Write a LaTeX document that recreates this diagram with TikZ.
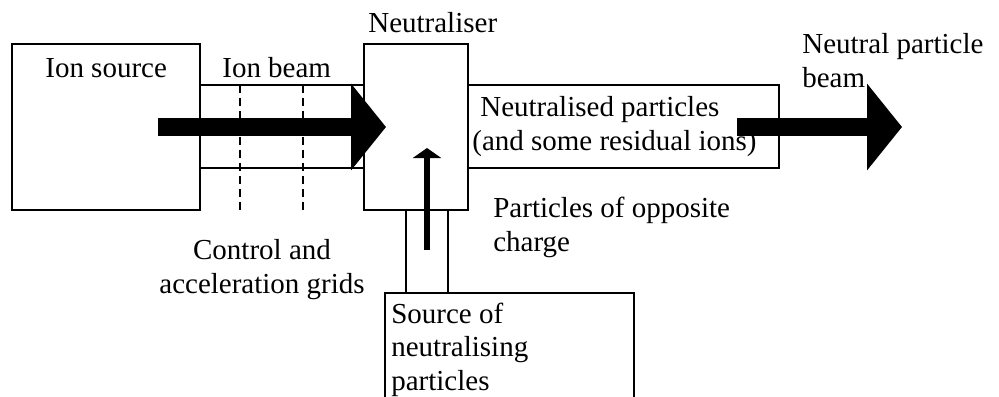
\documentclass[tikz,border=0pt]{standalone}
\usepackage{fontspec}
\setmainfont{Liberation Serif}
\usetikzlibrary{arrows.meta}
\tikzset{
  box/.style={draw,line width=1.1pt,inner sep=0pt},
  lbl/.style={inner sep=0pt,font=\fontsize{16.5}{18.8}\selectfont},
  beam/.style={line width=0.36cm,-{Triangle[length=0.7cm,width=1.7cm]}},
  feed/.style={line width=0.12cm,-{Triangle[length=0.2cm,width=0.56cm]}},
  grid/.style={line width=0.6pt,dash pattern=on 0.16cm off 0.1cm}
}
\begin{document}
\begin{tikzpicture}[x=0.02cm,y=-0.02cm]
	\useasboundingbox (0,0) rectangle (999,396);
	% boxes and tubes
	\node[box,minimum width=3.76cm,minimum height=3.32cm] (src) at (106,127) {};
	\node[box,minimum width=3.28cm,minimum height=1.66cm] (tube) at (282,126.5) {};
	\node[box,minimum width=2.08cm,minimum height=3.32cm] (neut) at (416,127) {};
	\node[box,minimum width=6.22cm,minimum height=1.66cm] (out) at (623.5,126.5) {};
	\node[box,minimum width=0.84cm,minimum height=1.66cm] (pipe) at (427,251.5) {};
	\node[box,minimum width=4.98cm,minimum height=2.6cm] (nsrc) at (509.5,358) {};
	% grids
	\draw[grid] (240,85) -- (240,210);
	\draw[grid] (303,85) -- (303,210);
	% beams
	\coordinate (b1) at (158,127);
	\coordinate (b2) at (386,127);
	\coordinate (b3) at (737,127);
	\coordinate (b4) at (902,127);
	\coordinate (f1) at (427,250);
	\coordinate (f2) at (427,148);
	\draw[beam] (b1) -- (b2);
	\draw[beam] (b3) -- (b4);
	\draw[feed] (f1) -- (f2);
	% labels (base = last line)
	\node[lbl,anchor=base west] (tsrc) at (45,77) {Ion source};
	\node[lbl,anchor=base west] (tbeam) at (222,77) {Ion beam};
	\node[lbl,anchor=base west] (tneut) at (368,32) {Neutraliser};
	\node[lbl,anchor=base west,align=left] (tnpb) at (802,87) {Neutral particle\\beam};
	\node[lbl,anchor=base west,align=left] (tout) at (472,150) {\hspace*{0.16cm}Neutralised particles\\(and some residual ions)};
	\node[lbl,anchor=base west,align=left] (topp) at (493,251) {Particles of opposite\\charge};
	\node[lbl,anchor=base,align=center] (tgrid) at (262,293) {Control and\\acceleration grids};
	\node[lbl,anchor=base west,align=left] (tnsrc) at (391,390) {Source of\\neutralising\\particles};
\end{tikzpicture}
\end{document}
